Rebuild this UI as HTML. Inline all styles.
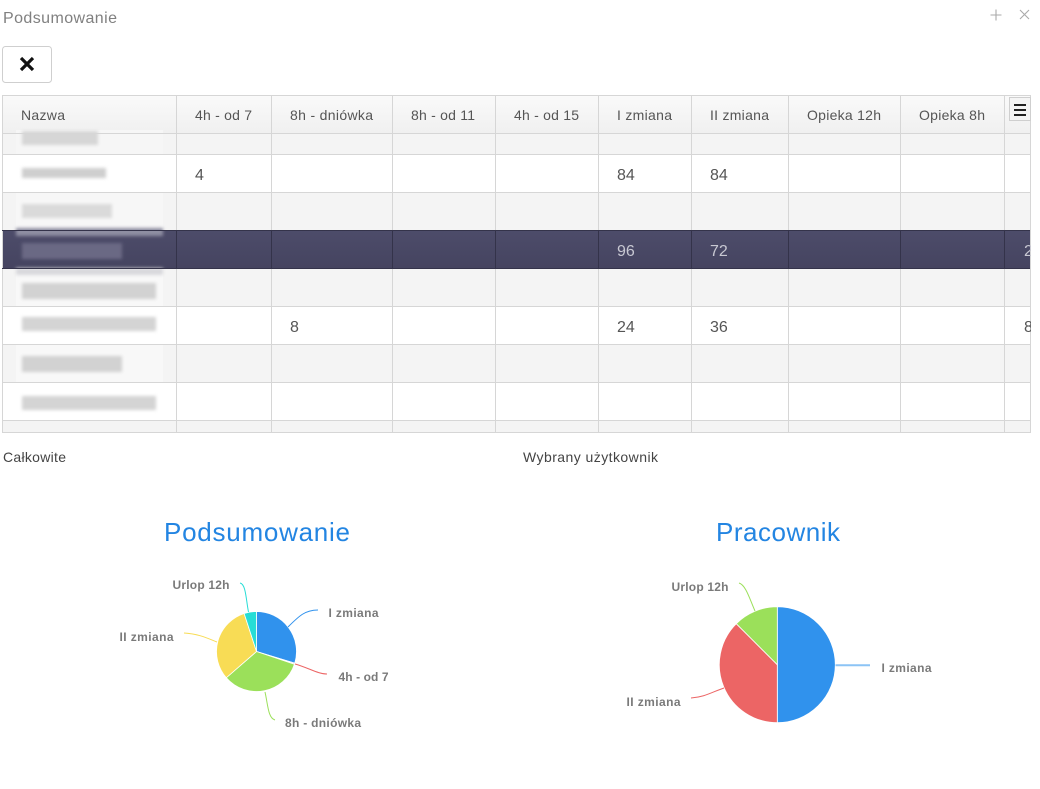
<!DOCTYPE html>
<html><head><meta charset="utf-8"><style>
html,body{margin:0;padding:0;background:#fff;width:1040px;height:789px;overflow:hidden}
svg{display:block}
text{font-family:"Liberation Sans",Arial,sans-serif}
</style></head><body>
<svg width="1040" height="789" viewBox="0 0 1040 789" xmlns="http://www.w3.org/2000/svg">
<defs>
<linearGradient id="hg" x1="0" y1="0" x2="0" y2="1"><stop offset="0" stop-color="#fafafa"/><stop offset="1" stop-color="#f0f0f0"/></linearGradient>
<linearGradient id="sg" x1="0" y1="0" x2="0" y2="1"><stop offset="0" stop-color="#4d4c6a"/><stop offset="1" stop-color="#454460"/></linearGradient>
<filter id="bl" x="-20%" y="-50%" width="140%" height="200%"><feGaussianBlur stdDeviation="1.6"/></filter>
</defs>

<!-- top header -->
<text x="3" y="23" font-size="16" fill="#808080" textLength="114">Podsumowanie</text>
<path d="M990.5,15 h11 M996,9.5 v11" stroke="#aaa" stroke-width="1.1"/>
<path d="M1020,10 l9,9 M1029,10 l-9,9" stroke="#aaa" stroke-width="1.1"/>

<!-- X button -->
<rect x="2.5" y="46.5" width="49" height="36" rx="3" fill="#fff" stroke="#cfcfcf"/>
<path d="M21,58 l12,12 M33,58 l-12,12" stroke="#111" stroke-width="3.2"/>

<!-- table rows backgrounds -->
<rect x="2" y="95" width="1029" height="38" fill="url(#hg)"/>
<rect x="2" y="133" width="1029" height="21" fill="#f4f4f4"/>
<rect x="2" y="154" width="1029" height="38" fill="#fff"/>
<rect x="2" y="192" width="1029" height="38" fill="#f4f4f4"/>
<rect x="2" y="230" width="1029" height="38" fill="url(#sg)"/>
<rect x="2" y="268" width="1029" height="38" fill="#f4f4f4"/>
<rect x="2" y="306" width="1029" height="38" fill="#fff"/>
<rect x="2" y="344" width="1029" height="38" fill="#f4f4f4"/>
<rect x="2" y="382" width="1029" height="38" fill="#fff"/>
<rect x="2" y="420" width="1029" height="13" fill="#f4f4f4"/>

<!-- blurred name column -->
<g>
<rect x="16" y="130" width="147" height="24" fill="#f6f6f6"/>
<rect x="16" y="192" width="147" height="36" fill="#f7f7f7"/>
<rect x="16" y="268" width="147" height="38" fill="#f8f8f8"/>
<rect x="16" y="344" width="147" height="38" fill="#f8f8f8"/>
<g filter="url(#bl)">
<rect x="22" y="131" width="76" height="14" fill="#d6d6d6"/>
<rect x="22" y="168" width="84" height="10" fill="#cfcfcf"/>
<rect x="22" y="204" width="90" height="14" fill="#dadada"/>
<rect x="16" y="228" width="147" height="8" fill="#8f8ea2"/>
<rect x="22" y="243" width="100" height="16" fill="#6a6984"/>
<rect x="16" y="268" width="147" height="7" fill="#d8d8dc"/>
<rect x="22" y="283" width="134" height="16" fill="#d2d2d2"/>
<rect x="22" y="317" width="134" height="14" fill="#d4d4d4"/>
<rect x="22" y="356" width="100" height="16" fill="#d2d2d2"/>
<rect x="22" y="396" width="134" height="14" fill="#d4d4d4"/>
</g>
</g>

<!-- grid lines -->
<g stroke="#d6d6d6" stroke-width="1">
<path d="M2,95.5 H1030.5 M2,133.5 H1030.5 M2,154.5 H1030.5 M2,192.5 H1030.5 M2,306.5 H1030.5 M2,344.5 H1030.5 M2,382.5 H1030.5 M2,420.5 H1030.5 M2,432.5 H1030.5"/>
<path d="M2.5,95 V433 M176.5,95 V433 M271.5,95 V433 M392.5,95 V433 M495.5,95 V433 M598.5,95 V433 M691.5,95 V433 M788.5,95 V433 M900.5,95 V433 M1004.5,95 V433 M1030.5,95 V433"/>
</g>
<!-- selected row borders -->
<g stroke="#34334a" stroke-width="1">
<path d="M2,230.5 H1030 M2,268.5 H1030"/>
<path d="M176.5,231 V268 M271.5,231 V268 M392.5,231 V268 M495.5,231 V268 M598.5,231 V268 M691.5,231 V268 M788.5,231 V268 M900.5,231 V268 M1004.5,231 V268"/>
</g>

<!-- header text -->
<g font-size="14" fill="#555">
<text x="21" y="120" textLength="44">Nazwa</text>
<text x="195" y="120" textLength="57">4h - od 7</text>
<text x="290" y="120" textLength="83">8h - dniówka</text>
<text x="411" y="120" textLength="64">8h - od 11</text>
<text x="514" y="120" textLength="65">4h - od 15</text>
<text x="617" y="120" textLength="55">I zmiana</text>
<text x="710" y="120" textLength="59">II zmiana</text>
<text x="807" y="120" textLength="74">Opieka 12h</text>
<text x="919" y="120" textLength="66">Opieka 8h</text>
</g>
<!-- menu button -->
<rect x="1009.5" y="97.5" width="21" height="23" fill="#f5f5f5" stroke="#cfcfcf"/>
<path d="M1014,105 h12 M1014,110 h12 M1014,115 h12" stroke="#222" stroke-width="2"/>

<!-- cell values -->
<g font-size="16" fill="#555">
<text x="195" y="180">4</text>
<text x="617" y="180">84</text>
<text x="710" y="180">84</text>
<text x="290" y="332">8</text>
<text x="617" y="332">24</text>
<text x="710" y="332">36</text>
<text x="1024" y="332">8</text>
</g>
<g font-size="16" fill="#c8c8d2">
<text x="617" y="256">96</text>
<text x="710" y="256">72</text>
<text x="1024" y="256">2</text>
</g>
<rect x="1031" y="90" width="9" height="350" fill="#fff"/>

<!-- captions -->
<text x="3" y="462" font-size="14" fill="#444" textLength="63">Całkowite</text>
<text x="523" y="462" font-size="14" fill="#444" textLength="135">Wybrany użytkownik</text>

<!-- chart titles -->
<text x="257" y="541" font-size="26" fill="#2385e2" text-anchor="middle" textLength="186">Podsumowanie</text>
<text x="778" y="541" font-size="26" fill="#2385e2" text-anchor="middle" textLength="124">Pracownik</text>

<!-- Pie 1 -->
<g stroke="#fff" stroke-width="0.8">
<path d="M256.5,651.5 L256.5,611.5 A40,40 0 0 1 294.75,663.2 Z" fill="#3092ed"/>
<path d="M256.5,651.5 L294.75,663.2 A40,40 0 0 1 294.43,664.19 Z" fill="#ec6565"/>
<path d="M256.5,651.5 L294.43,664.19 A40,40 0 0 1 226.31,677.74 Z" fill="#9be05a"/>
<path d="M256.5,651.5 L226.31,677.74 A40,40 0 0 1 244.14,613.46 Z" fill="#f8dc55"/>
<path d="M256.5,651.5 L244.14,613.46 A40,40 0 0 1 256.5,611.5 Z" fill="#26ddd6"/>
</g>
<g fill="none" stroke-width="1">
<path d="M240,583 C246,584 246,600 248.5,612" stroke="#26ddd6"/>
<path d="M318,610 C305,610 299,616 288,627" stroke="#3092ed"/>
<path d="M295,664 C309,668 318,674 327,674" stroke="#ec6565"/>
<path d="M265,692 C268,705 268,718 275,720" stroke="#9be05a"/>
<path d="M184,633 C199,634 207,638 217,642" stroke="#f8dc55"/>
</g>
<g font-size="12" font-weight="bold" fill="#7a7a7a">
<text x="172.5" y="589" textLength="57">Urlop 12h</text>
<text x="328.5" y="617" textLength="50">I zmiana</text>
<text x="119.5" y="641" textLength="54">II zmiana</text>
<text x="338.5" y="681" textLength="50">4h - od 7</text>
<text x="285" y="727" textLength="76">8h - dniówka</text>
</g>

<!-- Pie 2 -->
<g stroke="#fff" stroke-width="0.8">
<path d="M777.3,664.7 L777.3,606.7 A58,58 0 0 1 777.3,722.7 Z" fill="#3092ed"/>
<path d="M777.3,664.7 L777.3,722.7 A58,58 0 0 1 736.29,623.69 Z" fill="#ec6565"/>
<path d="M777.3,664.7 L736.29,623.69 A58,58 0 0 1 777.3,606.7 Z" fill="#9be05a"/>
</g>
<g fill="none">
<path d="M835.5,665.3 H870" stroke="#8cc4f5" stroke-width="2"/>
<path d="M691,698 C705,697 712,692 724,688" stroke="#ec6565" stroke-width="1"/>
<path d="M739,583 C746,585 750,600 755,611" stroke="#9be05a" stroke-width="1"/>
</g>
<g font-size="12" font-weight="bold" fill="#7a7a7a">
<text x="671.5" y="591" textLength="57">Urlop 12h</text>
<text x="881.5" y="672" textLength="50">I zmiana</text>
<text x="626.5" y="706" textLength="54">II zmiana</text>
</g>
</svg>
</body></html>
